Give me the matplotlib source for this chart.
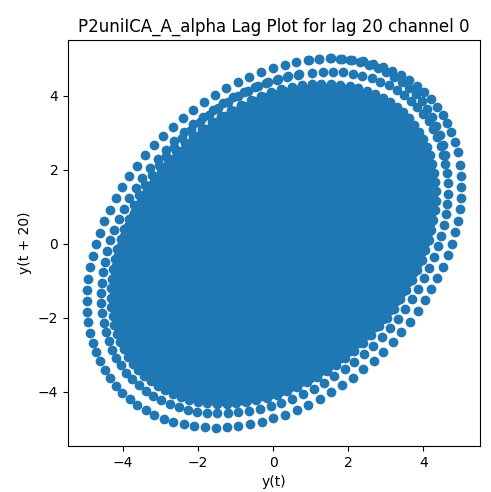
import numpy as np
import matplotlib
matplotlib.use("Agg")
import matplotlib.pyplot as plt

# Signal description: an alpha-like wave of ~100 samples per period
period_samples = 100.3
segment_length = 120
lag = 20
# peak amplitude of each successive constant-amplitude segment (dense core first, outer rings last)
segment_amplitudes = [0.10, 0.20, 0.30, 0.40, 0.50, 0.60, 0.70, 0.80, 0.90, 1.00,
                      1.10, 1.20, 1.30, 1.40, 1.50, 1.60, 1.70, 1.80, 1.90, 2.00,
                      2.10, 2.20, 2.30, 2.40, 2.50, 2.60, 2.70, 2.80, 2.90, 3.00,
                      3.10, 3.20, 3.30, 3.40, 3.50, 3.58, 3.66, 3.74, 3.82, 3.90,
                      3.97, 4.04, 4.11, 4.18, 4.25, 4.33, 4.62, 4.99]
# small baseline shift of each segment (only the outer rings are visibly off-centre)
segment_offsets = [0.0] * 46 + [0.03, 0.02]

n = np.arange(segment_length * len(segment_amplitudes))
envelope = np.repeat(segment_amplitudes, segment_length)
baseline = np.repeat(segment_offsets, segment_length)
signal = envelope * np.sin(2 * np.pi * n / period_samples) + baseline

y_t = signal[:-lag]
y_t_lag = signal[lag:]

fig = plt.figure(figsize=(4.91, 4.92), dpi=100)
ax = fig.add_axes([0.1385, 0.0935, 0.839, 0.8252])
ax.scatter(y_t, y_t_lag, c="#1f77b4")
ax.set_xlabel("y(t)")
ax.set_ylabel("y(t + 20)")
ax.set_title("P2uniICA_A_alpha Lag Plot for lag 20 channel 0")
fig.savefig("out.png", dpi=100)
